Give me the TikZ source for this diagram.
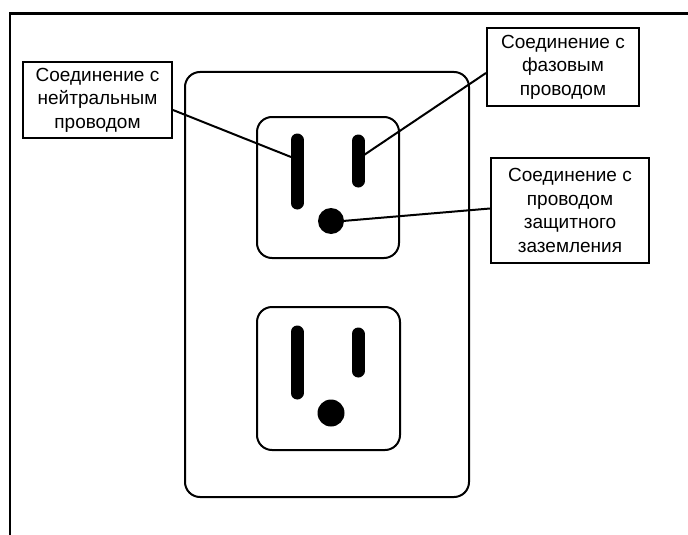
\documentclass[tikz,border=0pt]{standalone}
\usepackage{fontspec}
\setmainfont{Liberation Sans}
\begin{document}
\begin{tikzpicture}[x=1pt,y=-1pt,
  frameline/.style={line width=2.6pt},
  outline/.style={line width=2pt, rounded corners=15pt},
  slot/.style={line width=13pt, line cap=round},
  callout/.style={draw, line width=2pt, align=center, inner sep=0pt,
    font=\fontsize{19}{23.5}\selectfont},
  leader/.style={line width=2pt}]
\useasboundingbox (0,0) rectangle (688,535);

% outer frame, running off the right and bottom edges
\draw[frameline] (10,536) -- (10,13.5) -- (689,13.5);

% wall plate
\draw[outline] (185,72) rectangle (469,497);

% upper receptacle
\draw[outline] (257,117) rectangle (399,258);
\draw[slot] (297,140) -- (297,203);
\draw[slot] (358,141) -- (358,181);
\fill (331,221) circle (13);

% lower receptacle
\draw[outline] (257,307) rectangle (400,450);
\draw[slot] (297,332) -- (297,393);
\draw[slot] (358,334) -- (358,371);
\fill (331,413) circle (13.5);

% contact points for the leaders
\coordinate (neutral) at (291,157);
\coordinate (phase) at (364,155);
\coordinate (ground) at (331,222);

% callouts
\node[callout, minimum width=149pt, minimum height=76pt] (n1) at (97.5,100)
  {Соединение с\\нейтральным\\проводом};
\node[callout, minimum width=152pt, minimum height=78pt] (n2) at (563,67)
  {Соединение с\\фазовым\\проводом};
\node[callout, minimum width=158pt, minimum height=105pt] (n3) at (570,210.5)
  {Соединение с\\проводом\\защитного\\заземления};

% leaders
\draw[leader] ([yshift=-10pt]n1.east) -- (neutral);
\draw[leader] ([yshift=-6pt]n2.west) -- (phase);
\draw[leader] ([yshift=2pt]n3.west) -- (ground);
\end{tikzpicture}
\end{document}
